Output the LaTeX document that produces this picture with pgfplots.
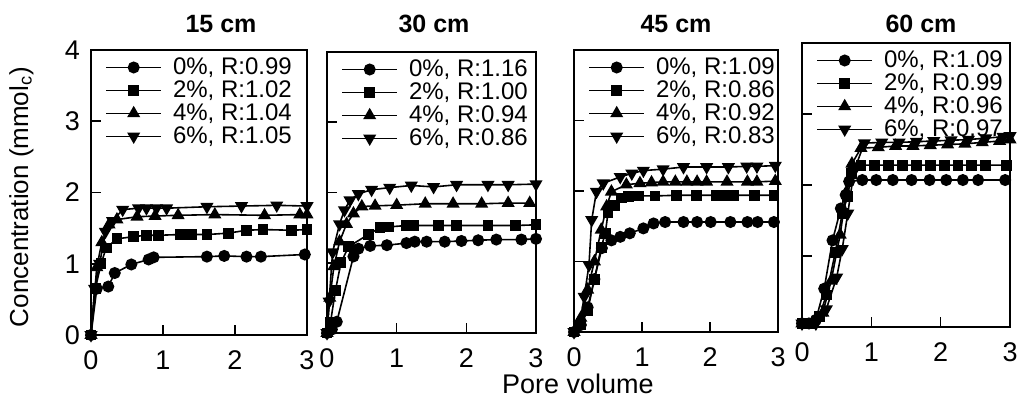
\documentclass[border=0pt]{standalone}
\usepackage{fontspec}
\setmainfont{Liberation Sans}
\usepackage{pgfplots}
\pgfplotsset{compat=1.18}

\pgfplotsset{
  panel/.style={
    scale only axis,
    xmin=0, xmax=3, ymin=0, ymax=4,
    xtick={0,1,2,3}, ytick={0,1,2,3,4},
    xtick pos=bottom, ytick pos=left,
    tick align=inside, major tick length=5pt,
    axis line style={line width=1pt},
    every tick/.style={line width=0.8pt, black},
    tick label style={font=\fontsize{13.5}{15}\selectfont},
    /pgf/number format/assume math mode=true,
    xticklabel style={yshift=-4.5pt},
    yticklabel style={xshift=-2pt},
    clip=false,
    legend cell align=left,
    legend style={draw=none, fill=none, at={(0,1)}, anchor=north west,
      xshift=7pt, yshift=-3pt, inner sep=0pt, row sep=0.4pt,
      nodes={inner xsep=1pt, inner ysep=0.6pt, text depth=0.15em},
      /tikz/every odd column/.append style={column sep=4.5pt},
      font=\fontsize{12}{13}\selectfont},
    legend image code/.code={
      \draw[mark repeat=2, mark phase=2] plot coordinates {(0pt,0pt) (13.75pt,0pt) (27.5pt,0pt)};},
    every axis plot/.append style={black, line width=0.8pt, mark options={solid, fill=black}},
  },
  s0/.style={mark=*, mark size=2.6pt},
  s2/.style={mark=square*, mark size=2.3pt},
  s4/.style={mark=triangle*, mark size=3pt},
  s6/.style={mark=triangle*, mark size=3pt, mark options={rotate=180}},
}

\begin{document}
\begin{tikzpicture}
\useasboundingbox (0pt,0pt) rectangle (510.5pt,-201.5pt);

% 15 cm
\begin{axis}[panel, at={(45.5pt,-167.5pt)}, anchor=south west, width=108pt, height=142.5pt]
\addplot[s0] coordinates {(0,0) (0.08,0.65) (0.24,0.68) (0.33,0.87) (0.56,0.99) (0.80,1.06) (0.87,1.09) (1.61,1.10) (1.85,1.11) (2.16,1.10) (2.36,1.10) (2.97,1.13)};
\addlegendentry{0\%, R:0.99}
\addplot[s2] coordinates {(0,0) (0.06,0.65) (0.14,1.0) (0.21,1.22) (0.36,1.35) (0.59,1.38) (0.77,1.40) (0.94,1.40) (1.24,1.41) (1.40,1.41) (1.61,1.41) (1.91,1.43) (2.16,1.47) (2.39,1.48) (2.79,1.47) (3,1.48)};
\addlegendentry{2\%, R:1.02}
\addplot[s4] coordinates {(0,0) (0.08,0.95) (0.15,1.30) (0.25,1.55) (0.36,1.62) (0.64,1.66) (0.89,1.67) (1.21,1.68) (1.72,1.69) (2.41,1.68) (2.90,1.69) (3,1.69)};
\addlegendentry{4\%, R:1.04}
\addplot[s6] coordinates {(0,0) (0.05,0.65) (0.12,1.0) (0.2,1.45) (0.3,1.6) (0.44,1.76) (0.66,1.78) (0.77,1.78) (0.91,1.78) (1.05,1.78) (1.61,1.80) (2.09,1.81) (2.58,1.82) (3,1.81)};
\addlegendentry{6\%, R:1.05}
\end{axis}

% 30 cm
\begin{axis}[panel, at={(163.5pt,-166.5pt)}, anchor=south west, width=104.5pt, height=140.5pt, yticklabels={}]
\addplot[s0] coordinates {(0,0) (0.07,0.05) (0.14,0.16) (0.38,1.09) (0.45,1.2) (0.62,1.24) (0.86,1.25) (1.14,1.28) (1.26,1.30) (1.43,1.30) (1.69,1.30) (1.93,1.31) (2.17,1.32) (2.43,1.33) (2.79,1.33) (3,1.34)};
\addlegendentry{0\%, R:1.16}
\addplot[s2] coordinates {(0,0) (0.05,0.15) (0.12,0.6) (0.2,1.0) (0.31,1.23) (0.59,1.40) (0.76,1.50) (0.88,1.51) (1.14,1.53) (1.24,1.53) (1.60,1.53) (1.86,1.53) (2.31,1.53) (2.70,1.53) (3,1.54)};
\addlegendentry{2\%, R:1.00}
\addplot[s4] coordinates {(0,0) (0.04,0.5) (0.1,0.95) (0.18,1.3) (0.28,1.55) (0.38,1.70) (0.50,1.80) (0.69,1.81) (1.00,1.82) (1.41,1.84) (1.81,1.84) (2.22,1.84) (2.60,1.85) (2.91,1.85)};
\addlegendentry{4\%, R:0.94}
\addplot[s6] coordinates {(0,0) (0.03,0.45) (0.08,1.15) (0.18,1.55) (0.25,1.75) (0.33,1.89) (0.45,1.98) (0.64,2.04) (0.90,2.07) (1.21,2.10) (1.53,2.08) (1.86,2.11) (2.31,2.11) (2.60,2.11) (3,2.12)};
\addlegendentry{6\%, R:0.86}
\end{axis}

% 45 cm
\begin{axis}[panel, at={(287pt,-166pt)}, anchor=south west, width=102pt, height=141pt, yticklabels={}]
\addplot[s0] coordinates {(0,0) (0.1,0.1) (0.2,0.35) (0.3,0.75) (0.41,1.19) (0.55,1.30) (0.68,1.35) (0.82,1.40) (1.02,1.47) (1.17,1.54) (1.34,1.56) (1.61,1.56) (1.81,1.56) (2.01,1.56) (2.30,1.56) (2.55,1.56) (2.70,1.56) (2.94,1.56)};
\addlegendentry{0\%, R:1.09}
\addplot[s2] coordinates {(0,0) (0.1,0.1) (0.2,0.3) (0.3,0.75) (0.4,1.2) (0.46,1.40) (0.50,1.69) (0.60,1.80) (0.70,1.90) (0.80,1.92) (0.95,1.93) (1.19,1.93) (1.51,1.94) (1.80,1.94) (2.09,1.94) (2.25,1.94) (2.34,1.94) (2.65,1.94) (2.94,1.94)};
\addlegendentry{2\%, R:0.86}
\addplot[s4] coordinates {(0,0) (0.1,0.2) (0.2,0.6) (0.3,1.0) (0.4,1.45) (0.48,1.78) (0.55,1.99) (0.77,2.09) (0.97,2.11) (1.14,2.12) (1.31,2.13) (1.49,2.13) (1.66,2.13) (1.81,2.13) (1.95,2.13) (2.25,2.13) (2.55,2.13) (2.69,2.13) (2.96,2.14)};
\addlegendentry{4\%, R:0.92}
\addplot[s6] coordinates {(0,0) (0.08,0.1) (0.15,0.5) (0.22,0.95) (0.26,1.59) (0.33,1.99) (0.43,2.11) (0.68,2.20) (0.85,2.25) (1.02,2.29) (1.31,2.31) (1.61,2.34) (1.95,2.34) (2.27,2.34) (2.54,2.35) (2.69,2.35) (2.96,2.36)};
\addlegendentry{6\%, R:0.83}
\end{axis}

% 60 cm
\begin{axis}[panel, at={(401pt,-163.5pt)}, anchor=south west, width=104pt, height=142pt, yticklabels={}]
\addplot[s0] coordinates {(0,0.05) (0.1,0.05) (0.2,0.1) (0.32,0.54) (0.44,1.22) (0.56,1.67) (0.63,1.86) (0.68,2.05) (0.87,2.07) (1.07,2.07) (1.31,2.07) (1.58,2.07) (1.84,2.07) (2.08,2.07) (2.32,2.07) (2.54,2.07) (2.93,2.07)};
\addlegendentry{0\%, R:1.09}
\addplot[s2] coordinates {(0,0.05) (0.12,0.05) (0.25,0.15) (0.35,0.45) (0.48,1.05) (0.58,1.6) (0.66,1.84) (0.71,2.16) (0.85,2.28) (1.05,2.28) (1.25,2.28) (1.45,2.28) (1.65,2.28) (1.85,2.28) (2.05,2.28) (2.25,2.28) (2.45,2.28) (2.65,2.28) (2.95,2.28)};
\addlegendentry{2\%, R:0.99}
\addplot[s4] coordinates {(0,0.05) (0.15,0.05) (0.3,0.2) (0.42,0.65) (0.55,1.3) (0.64,1.9) (0.72,2.3) (0.85,2.52) (1.1,2.53) (1.35,2.55) (1.6,2.55) (1.85,2.56) (2.1,2.57) (2.35,2.58) (2.6,2.6) (2.85,2.62) (3,2.64)};
\addlegendentry{4\%, R:0.96}
\addplot[s6] coordinates {(0,0.05) (0.2,0.05) (0.35,0.25) (0.5,0.7) (0.58,1.1) (0.66,1.6) (0.75,2.2) (0.9,2.59) (1.15,2.60) (1.4,2.60) (1.65,2.61) (1.9,2.62) (2.15,2.63) (2.4,2.64) (2.65,2.66) (2.9,2.68) (3,2.69)};
\addlegendentry{6\%, R:0.97}
\end{axis}

% titles and axis labels
\begin{scope}[every node/.style={font=\fontsize{12.5}{14}\selectfont\bfseries, anchor=base}]
\node at (110.5pt,-16pt) {15 cm};
\node at (217pt,-16pt) {30 cm};
\node at (338pt,-16pt) {45 cm};
\node at (460.5pt,-16pt) {60 cm};
\end{scope}
\node[font=\fontsize{13}{15}\selectfont, rotate=90, anchor=base] at (14pt,-98.5pt) {Concentration (mmol\textsubscript{c})};
\node[font=\fontsize{13.5}{15}\selectfont, anchor=base] at (289pt,-196.5pt) {Pore volume};
\end{tikzpicture}
\end{document}
